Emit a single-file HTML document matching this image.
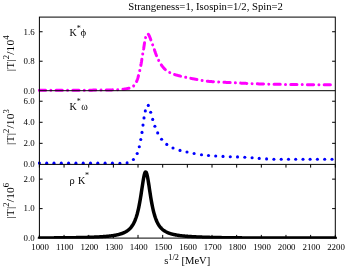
<!DOCTYPE html>
<html><head><meta charset="utf-8"><style>
html,body{margin:0;padding:0;background:#fff;}
svg{display:block;font-family:"Liberation Serif",serif;will-change:transform;}
text{fill:#000;}
</style></head><body>
<svg width="350" height="270" viewBox="0 0 350 270">
<rect width="350" height="270" fill="#fff"/>
<text x="128.3" y="10.0" font-size="10.7">Strangeness=1, Isospin=1/2, Spin=2</text>
<defs><clipPath id="c1"><rect x="37" y="17" width="300.5" height="74.9"/></clipPath><clipPath id="c2"><rect x="38" y="90.7" width="299" height="74.2"/></clipPath><clipPath id="c3"><rect x="37" y="164.4" width="300.5" height="74.25"/></clipPath></defs>
<path clip-path="url(#c1)" d="M39.40 90.20 L39.80 90.20 L40.20 90.20 L40.60 90.20 L40.99 90.20 L41.39 90.20 L41.79 90.20 L42.19 90.20 L42.59 90.20 L42.99 90.20 L43.38 90.20 L43.78 90.20 L44.18 90.20 L44.58 90.20 L44.98 90.20 L45.38 90.20 L45.77 90.20 L46.17 90.20 L46.57 90.20 L46.97 90.20 L47.37 90.20 L47.77 90.20 L48.16 90.20 L48.56 90.20 L48.96 90.20 L49.36 90.20 L49.76 90.20 L50.16 90.20 L50.55 90.20 L50.95 90.20 L51.35 90.20 L51.75 90.20 L52.15 90.20 L52.55 90.20 L52.94 90.20 L53.34 90.20 L53.74 90.20 L54.14 90.20 L54.54 90.19 L54.94 90.19 L55.33 90.19 L55.73 90.19 L56.13 90.19 L56.53 90.19 L56.93 90.19 L57.33 90.19 L57.72 90.19 L58.12 90.19 L58.52 90.19 L58.92 90.19 L59.32 90.19 L59.71 90.19 L60.11 90.19 L60.51 90.19 L60.91 90.19 L61.31 90.19 L61.71 90.19 L62.10 90.19 L62.50 90.19 L62.90 90.19 L63.30 90.19 L63.70 90.19 L64.10 90.19 L64.49 90.18 L64.89 90.18 L65.29 90.18 L65.69 90.18 L66.09 90.18 L66.49 90.18 L66.88 90.18 L67.28 90.18 L67.68 90.18 L68.08 90.18 L68.48 90.18 L68.87 90.18 L69.27 90.18 L69.67 90.18 L70.07 90.18 L70.47 90.18 L70.87 90.18 L71.26 90.18 L71.66 90.17 L72.06 90.17 L72.46 90.17 L72.86 90.17 L73.26 90.17 L73.65 90.17 L74.05 90.17 L74.45 90.17 L74.85 90.17 L75.25 90.17 L75.64 90.17 L76.04 90.17 L76.44 90.17 L76.84 90.16 L77.24 90.16 L77.64 90.16 L78.03 90.16 L78.43 90.16 L78.83 90.16 L79.23 90.16 L79.63 90.16 L80.02 90.16 L80.42 90.16 L80.82 90.16 L81.22 90.16 L81.62 90.15 L82.02 90.15 L82.41 90.15 L82.81 90.15 L83.21 90.15 L83.61 90.15 L84.01 90.15 L84.40 90.15 L84.80 90.15 L85.20 90.15 L85.60 90.14 L86.00 90.14 L86.40 90.14 L86.79 90.14 L87.19 90.14 L87.59 90.14 L87.99 90.14 L88.39 90.14 L88.78 90.14 L89.18 90.14 L89.58 90.13 L89.98 90.13 L90.38 90.13 L90.78 90.13 L91.17 90.13 L91.57 90.13 L91.97 90.13 L92.37 90.13 L92.77 90.12 L93.16 90.12 L93.56 90.12 L93.96 90.12 L94.36 90.12 L94.76 90.12 L95.15 90.12 L95.55 90.12 L95.95 90.11 L96.35 90.11 L96.75 90.11 L97.15 90.11 L97.54 90.11 L97.94 90.11 L98.34 90.11 L98.74 90.10 L99.14 90.10 L99.53 90.10 L99.93 90.10 L100.33 90.10 L100.73 90.10 L101.13 90.09 L101.53 90.09 L101.92 90.09 L102.32 90.08 L102.72 90.08 L103.12 90.08 L103.52 90.07 L103.92 90.07 L104.32 90.06 L104.72 90.06 L105.11 90.05 L105.51 90.04 L105.91 90.04 L106.31 90.03 L106.71 90.02 L107.11 90.01 L107.51 90.00 L107.91 89.99 L108.31 89.98 L108.71 89.97 L109.11 89.96 L109.50 89.95 L109.90 89.94 L110.30 89.93 L110.70 89.92 L111.10 89.91 L111.50 89.89 L111.90 89.88 L112.30 89.87 L112.69 89.85 L113.09 89.84 L113.49 89.82 L113.89 89.81 L114.29 89.79 L114.69 89.78 L115.08 89.76 L115.48 89.74 L115.88 89.72 L116.28 89.71 L116.67 89.69 L117.07 89.67 L117.47 89.65 L117.87 89.63 L118.26 89.61 L118.66 89.59 L119.06 89.57 L119.45 89.55 L119.85 89.53 L120.24 89.50 L120.64 89.48 L121.04 89.46 L121.43 89.43 L121.83 89.41 L122.22 89.39 L122.62 89.35 L123.01 89.31 L123.41 89.26 L123.80 89.21 L124.19 89.15 L124.59 89.08 L124.98 89.02 L125.37 88.94 L125.77 88.87 L126.16 88.79 L126.55 88.71 L126.94 88.62 L127.33 88.54 L127.72 88.46 L128.11 88.38 L128.50 88.29 L128.90 88.21 L129.29 88.12 L129.68 88.02 L130.07 87.91 L130.45 87.80 L130.82 87.67 L131.17 87.53 L131.53 87.36 L131.88 87.17 L132.23 86.96 L132.58 86.73 L132.91 86.48 L133.23 86.22 L133.53 85.96 L133.81 85.69 L134.07 85.42 L134.33 85.14 L134.57 84.84 L134.81 84.53 L135.04 84.20 L135.27 83.87 L135.49 83.53 L135.70 83.17 L135.90 82.82 L136.10 82.46 L136.28 82.09 L136.46 81.72 L136.63 81.36 L136.80 80.99 L136.95 80.63 L137.09 80.27 L137.23 79.90 L137.37 79.53 L137.50 79.16 L137.62 78.79 L137.74 78.41 L137.86 78.03 L137.97 77.65 L138.08 77.27 L138.19 76.88 L138.30 76.49 L138.40 76.11 L138.50 75.72 L138.60 75.33 L138.69 74.94 L138.79 74.54 L138.88 74.15 L138.98 73.76 L139.07 73.37 L139.16 72.98 L139.26 72.59 L139.35 72.20 L139.44 71.82 L139.54 71.43 L139.63 71.04 L139.72 70.66 L139.81 70.27 L139.90 69.88 L139.98 69.49 L140.07 69.10 L140.15 68.71 L140.24 68.32 L140.32 67.93 L140.40 67.54 L140.48 67.15 L140.56 66.76 L140.64 66.37 L140.72 65.98 L140.79 65.59 L140.87 65.20 L140.94 64.81 L141.02 64.42 L141.09 64.02 L141.16 63.63 L141.23 63.24 L141.29 62.85 L141.36 62.46 L141.43 62.06 L141.49 61.67 L141.56 61.28 L141.62 60.88 L141.68 60.49 L141.74 60.10 L141.81 59.70 L141.87 59.31 L141.93 58.92 L141.99 58.52 L142.05 58.13 L142.12 57.74 L142.18 57.34 L142.24 56.95 L142.31 56.56 L142.37 56.16 L142.44 55.77 L142.51 55.38 L142.57 54.99 L142.64 54.59 L142.71 54.20 L142.78 53.81 L142.84 53.42 L142.91 53.02 L142.98 52.63 L143.05 52.24 L143.12 51.85 L143.19 51.45 L143.25 51.06 L143.32 50.67 L143.39 50.28 L143.45 49.88 L143.52 49.49 L143.58 49.10 L143.65 48.71 L143.71 48.31 L143.77 47.92 L143.83 47.52 L143.89 47.13 L143.95 46.74 L144.01 46.34 L144.07 45.95 L144.13 45.55 L144.19 45.16 L144.25 44.77 L144.31 44.37 L144.37 43.98 L144.43 43.59 L144.50 43.19 L144.56 42.80 L144.63 42.41 L144.70 42.02 L144.77 41.62 L144.84 41.23 L144.90 40.84 L144.97 40.44 L145.05 40.05 L145.12 39.65 L145.20 39.26 L145.28 38.87 L145.37 38.49 L145.46 38.10 L145.57 37.72 L145.68 37.34 L145.80 36.96 L145.93 36.57 L146.08 36.19 L146.24 35.82 L146.42 35.46 L146.60 35.11 L146.81 34.79 L147.06 34.43 L147.35 34.08 L147.65 33.84 L147.93 33.83 L148.20 34.07 L148.47 34.44 L148.71 34.84 L148.91 35.18 L149.10 35.52 L149.27 35.87 L149.44 36.23 L149.60 36.60 L149.75 36.97 L149.90 37.34 L150.04 37.72 L150.18 38.10 L150.32 38.48 L150.46 38.86 L150.60 39.24 L150.74 39.61 L150.88 39.98 L151.02 40.35 L151.16 40.73 L151.30 41.10 L151.43 41.48 L151.57 41.85 L151.70 42.23 L151.84 42.60 L151.97 42.97 L152.11 43.35 L152.24 43.72 L152.38 44.10 L152.51 44.47 L152.65 44.85 L152.78 45.22 L152.92 45.60 L153.05 45.97 L153.19 46.35 L153.32 46.72 L153.46 47.10 L153.59 47.47 L153.72 47.85 L153.86 48.22 L153.99 48.60 L154.12 48.98 L154.25 49.35 L154.38 49.73 L154.51 50.11 L154.63 50.48 L154.76 50.86 L154.90 51.24 L155.03 51.61 L155.16 51.99 L155.29 52.36 L155.43 52.74 L155.56 53.11 L155.70 53.48 L155.84 53.86 L155.99 54.23 L156.13 54.60 L156.28 54.97 L156.43 55.34 L156.58 55.71 L156.73 56.08 L156.88 56.44 L157.04 56.81 L157.19 57.18 L157.35 57.54 L157.51 57.91 L157.67 58.27 L157.83 58.64 L158.00 59.00 L158.16 59.36 L158.33 59.72 L158.50 60.08 L158.67 60.45 L158.84 60.81 L159.02 61.17 L159.19 61.52 L159.38 61.88 L159.56 62.23 L159.76 62.58 L159.95 62.92 L160.16 63.26 L160.37 63.59 L160.59 63.93 L160.81 64.26 L161.04 64.58 L161.27 64.91 L161.51 65.23 L161.75 65.55 L162.00 65.86 L162.24 66.18 L162.49 66.49 L162.74 66.80 L162.99 67.11 L163.24 67.42 L163.50 67.73 L163.76 68.03 L164.03 68.33 L164.30 68.62 L164.58 68.91 L164.87 69.18 L165.16 69.44 L165.46 69.69 L165.77 69.94 L166.08 70.19 L166.40 70.43 L166.73 70.66 L167.06 70.89 L167.40 71.11 L167.73 71.33 L168.07 71.54 L168.41 71.75 L168.75 71.95 L169.09 72.15 L169.44 72.35 L169.79 72.54 L170.14 72.73 L170.50 72.92 L170.86 73.10 L171.22 73.27 L171.58 73.43 L171.95 73.58 L172.31 73.72 L172.68 73.86 L173.05 74.00 L173.43 74.13 L173.80 74.26 L174.18 74.38 L174.56 74.50 L174.94 74.62 L175.32 74.74 L175.71 74.85 L176.09 74.96 L176.48 75.07 L176.86 75.18 L177.25 75.28 L177.63 75.39 L178.02 75.49 L178.41 75.59 L178.80 75.69 L179.18 75.79 L179.57 75.89 L179.95 75.99 L180.34 76.09 L180.72 76.18 L181.11 76.28 L181.50 76.37 L181.88 76.47 L182.27 76.56 L182.66 76.65 L183.05 76.74 L183.44 76.82 L183.83 76.91 L184.21 77.00 L184.60 77.08 L184.99 77.17 L185.38 77.25 L185.77 77.34 L186.16 77.42 L186.55 77.50 L186.94 77.58 L187.33 77.66 L187.72 77.74 L188.11 77.82 L188.50 77.90 L188.89 77.98 L189.28 78.06 L189.67 78.13 L190.07 78.21 L190.46 78.29 L190.85 78.36 L191.24 78.44 L191.63 78.51 L192.02 78.59 L192.41 78.66 L192.80 78.73 L193.20 78.81 L193.59 78.88 L193.98 78.95 L194.37 79.02 L194.76 79.09 L195.16 79.16 L195.55 79.23 L195.94 79.30 L196.33 79.37 L196.72 79.44 L197.12 79.51 L197.51 79.58 L197.90 79.64 L198.29 79.71 L198.69 79.78 L199.08 79.85 L199.47 79.92 L199.86 79.99 L200.25 80.06 L200.65 80.14 L201.04 80.21 L201.43 80.29 L201.82 80.36 L202.22 80.43 L202.61 80.51 L203.00 80.58 L203.39 80.65 L203.79 80.72 L204.18 80.79 L204.57 80.86 L204.96 80.92 L205.36 80.98 L205.75 81.04 L206.15 81.10 L206.54 81.15 L206.93 81.20 L207.33 81.24 L207.72 81.28 L208.12 81.32 L208.51 81.35 L208.91 81.39 L209.30 81.42 L209.70 81.46 L210.09 81.49 L210.49 81.52 L210.89 81.55 L211.28 81.58 L211.68 81.61 L212.08 81.64 L212.47 81.67 L212.87 81.69 L213.27 81.72 L213.66 81.75 L214.06 81.77 L214.46 81.80 L214.85 81.82 L215.25 81.85 L215.65 81.87 L216.05 81.89 L216.45 81.92 L216.84 81.94 L217.24 81.96 L217.64 81.98 L218.04 82.00 L218.43 82.02 L218.83 82.04 L219.23 82.06 L219.63 82.08 L220.03 82.10 L220.43 82.12 L220.82 82.14 L221.22 82.16 L221.62 82.18 L222.02 82.20 L222.42 82.22 L222.82 82.24 L223.22 82.25 L223.61 82.27 L224.01 82.29 L224.41 82.31 L224.81 82.33 L225.21 82.34 L225.61 82.36 L226.00 82.38 L226.40 82.40 L226.80 82.42 L227.20 82.43 L227.60 82.45 L228.00 82.47 L228.39 82.49 L228.79 82.51 L229.19 82.53 L229.59 82.55 L229.99 82.56 L230.38 82.58 L230.78 82.60 L231.18 82.62 L231.58 82.64 L231.97 82.66 L232.37 82.68 L232.77 82.70 L233.17 82.72 L233.57 82.74 L233.96 82.76 L234.36 82.79 L234.76 82.81 L235.16 82.83 L235.55 82.85 L235.95 82.87 L236.35 82.89 L236.75 82.91 L237.15 82.93 L237.54 82.95 L237.94 82.97 L238.34 82.99 L238.74 83.01 L239.13 83.03 L239.53 83.05 L239.93 83.07 L240.33 83.09 L240.73 83.11 L241.12 83.13 L241.52 83.15 L241.92 83.17 L242.32 83.19 L242.71 83.21 L243.11 83.23 L243.51 83.25 L243.91 83.27 L244.31 83.29 L244.70 83.31 L245.10 83.33 L245.50 83.35 L245.90 83.37 L246.30 83.39 L246.69 83.40 L247.09 83.42 L247.49 83.44 L247.89 83.46 L248.28 83.48 L248.68 83.50 L249.08 83.51 L249.48 83.53 L249.88 83.55 L250.27 83.57 L250.67 83.58 L251.07 83.60 L251.47 83.62 L251.87 83.64 L252.26 83.65 L252.66 83.67 L253.06 83.68 L253.46 83.70 L253.85 83.72 L254.25 83.73 L254.65 83.75 L255.05 83.76 L255.45 83.78 L255.84 83.79 L256.24 83.81 L256.64 83.82 L257.04 83.83 L257.44 83.85 L257.83 83.86 L258.23 83.87 L258.63 83.89 L259.03 83.90 L259.43 83.91 L259.82 83.92 L260.22 83.93 L260.62 83.95 L261.02 83.96 L261.42 83.97 L261.81 83.98 L262.21 83.99 L262.61 84.00 L263.01 84.01 L263.41 84.02 L263.80 84.03 L264.20 84.04 L264.60 84.04 L265.00 84.05 L265.40 84.06 L265.79 84.07 L266.19 84.08 L266.59 84.09 L266.99 84.10 L267.39 84.11 L267.78 84.12 L268.18 84.12 L268.58 84.13 L268.98 84.14 L269.38 84.15 L269.78 84.16 L270.17 84.17 L270.57 84.17 L270.97 84.18 L271.37 84.19 L271.77 84.20 L272.16 84.21 L272.56 84.21 L272.96 84.22 L273.36 84.23 L273.76 84.24 L274.16 84.24 L274.55 84.25 L274.95 84.26 L275.35 84.27 L275.75 84.27 L276.15 84.28 L276.54 84.29 L276.94 84.29 L277.34 84.30 L277.74 84.31 L278.14 84.32 L278.54 84.32 L278.93 84.33 L279.33 84.34 L279.73 84.34 L280.13 84.35 L280.53 84.36 L280.92 84.36 L281.32 84.37 L281.72 84.37 L282.12 84.38 L282.52 84.39 L282.92 84.39 L283.31 84.40 L283.71 84.41 L284.11 84.41 L284.51 84.42 L284.91 84.42 L285.31 84.43 L285.70 84.43 L286.10 84.44 L286.50 84.45 L286.90 84.45 L287.30 84.46 L287.69 84.46 L288.09 84.47 L288.49 84.47 L288.89 84.48 L289.29 84.48 L289.69 84.49 L290.08 84.49 L290.48 84.50 L290.88 84.50 L291.28 84.51 L291.68 84.51 L292.08 84.52 L292.47 84.52 L292.87 84.53 L293.27 84.53 L293.67 84.54 L294.07 84.54 L294.46 84.54 L294.86 84.55 L295.26 84.55 L295.66 84.56 L296.06 84.56 L296.46 84.57 L296.85 84.57 L297.25 84.57 L297.65 84.58 L298.05 84.58 L298.45 84.59 L298.85 84.59 L299.24 84.59 L299.64 84.60 L300.04 84.60 L300.44 84.60 L300.84 84.61 L301.23 84.61 L301.63 84.61 L302.03 84.62 L302.43 84.62 L302.83 84.63 L303.23 84.63 L303.62 84.63 L304.02 84.64 L304.42 84.64 L304.82 84.64 L305.22 84.65 L305.61 84.65 L306.01 84.65 L306.41 84.66 L306.81 84.66 L307.21 84.66 L307.61 84.67 L308.00 84.67 L308.40 84.67 L308.80 84.68 L309.20 84.68 L309.60 84.68 L310.00 84.69 L310.39 84.69 L310.79 84.69 L311.19 84.69 L311.59 84.70 L311.99 84.70 L312.38 84.70 L312.78 84.71 L313.18 84.71 L313.58 84.71 L313.98 84.72 L314.38 84.72 L314.77 84.72 L315.17 84.72 L315.57 84.73 L315.97 84.73 L316.37 84.73 L316.77 84.73 L317.16 84.74 L317.56 84.74 L317.96 84.74 L318.36 84.74 L318.76 84.75 L319.15 84.75 L319.55 84.75 L319.95 84.75 L320.35 84.76 L320.75 84.76 L321.15 84.76 L321.54 84.76 L321.94 84.77 L322.34 84.77 L322.74 84.77 L323.14 84.77 L323.54 84.77 L323.93 84.78 L324.33 84.78 L324.73 84.78 L325.13 84.78 L325.53 84.78 L325.92 84.78 L326.32 84.79 L326.72 84.79 L327.12 84.79 L327.52 84.79 L327.92 84.79 L328.31 84.79 L328.71 84.79 L329.11 84.79 L329.51 84.80 L329.91 84.80 L330.31 84.80 L330.70 84.80 L331.10 84.80 L331.50 84.80" fill="none" stroke="#ff00ff" stroke-width="3" stroke-linecap="round" stroke-linejoin="round" stroke-dasharray="6.2 5.25 0.01 5.25"/>
<g clip-path="url(#c2)" fill="#0000ff"><circle cx="39.40" cy="163.15" r="1.55"/><circle cx="46.70" cy="163.15" r="1.55"/><circle cx="54.00" cy="163.15" r="1.55"/><circle cx="61.30" cy="163.15" r="1.55"/><circle cx="68.60" cy="163.15" r="1.55"/><circle cx="75.90" cy="163.15" r="1.55"/><circle cx="83.20" cy="163.15" r="1.55"/><circle cx="90.50" cy="163.15" r="1.55"/><circle cx="97.80" cy="163.15" r="1.55"/><circle cx="105.10" cy="163.15" r="1.55"/><circle cx="112.40" cy="163.15" r="1.55"/><circle cx="119.90" cy="163.40" r="1.55"/><circle cx="127.10" cy="162.90" r="1.55"/><circle cx="133.40" cy="159.50" r="1.55"/><circle cx="137.20" cy="153.50" r="1.55"/><circle cx="139.30" cy="146.70" r="1.55"/><circle cx="140.80" cy="139.50" r="1.55"/><circle cx="142.00" cy="132.40" r="1.55"/><circle cx="143.00" cy="125.10" r="1.55"/><circle cx="144.00" cy="117.90" r="1.55"/><circle cx="145.30" cy="110.90" r="1.55"/><circle cx="148.30" cy="105.40" r="1.55"/><circle cx="150.70" cy="112.30" r="1.55"/><circle cx="152.70" cy="119.40" r="1.55"/><circle cx="154.90" cy="126.30" r="1.55"/><circle cx="157.70" cy="132.90" r="1.55"/><circle cx="161.60" cy="139.20" r="1.55"/><circle cx="166.80" cy="144.40" r="1.55"/><circle cx="173.00" cy="148.00" r="1.55"/><circle cx="180.00" cy="150.40" r="1.55"/><circle cx="187.00" cy="152.00" r="1.55"/><circle cx="194.10" cy="153.50" r="1.55"/><circle cx="201.50" cy="154.80" r="1.55"/><circle cx="208.50" cy="155.50" r="1.55"/><circle cx="215.70" cy="156.00" r="1.55"/><circle cx="223.00" cy="156.40" r="1.55"/><circle cx="230.30" cy="156.70" r="1.55"/><circle cx="237.50" cy="156.90" r="1.55"/><circle cx="244.80" cy="157.30" r="1.55"/><circle cx="252.10" cy="157.80" r="1.55"/><circle cx="259.20" cy="158.40" r="1.55"/><circle cx="266.60" cy="158.90" r="1.55"/><circle cx="273.90" cy="159.20" r="1.55"/><circle cx="281.20" cy="159.30" r="1.55"/><circle cx="288.50" cy="159.30" r="1.55"/><circle cx="295.70" cy="159.30" r="1.55"/><circle cx="303.00" cy="159.30" r="1.55"/><circle cx="310.10" cy="159.30" r="1.55"/><circle cx="317.40" cy="159.30" r="1.55"/><circle cx="324.70" cy="159.30" r="1.55"/><circle cx="332.00" cy="159.30" r="1.55"/></g>
<path clip-path="url(#c3)" d="M39.40 237.96 L39.82 237.96 L40.25 237.96 L40.67 237.95 L41.09 237.95 L41.52 237.95 L41.94 237.95 L42.36 237.95 L42.79 237.94 L43.21 237.94 L43.63 237.94 L44.06 237.94 L44.48 237.94 L44.90 237.93 L45.33 237.93 L45.75 237.93 L46.17 237.93 L46.60 237.92 L47.02 237.92 L47.44 237.92 L47.87 237.92 L48.29 237.91 L48.71 237.91 L49.14 237.91 L49.56 237.91 L49.98 237.90 L50.41 237.90 L50.83 237.90 L51.25 237.89 L51.68 237.89 L52.10 237.89 L52.52 237.89 L52.95 237.88 L53.37 237.88 L53.79 237.88 L54.22 237.87 L54.64 237.87 L55.06 237.87 L55.49 237.86 L55.91 237.86 L56.33 237.86 L56.76 237.85 L57.18 237.85 L57.60 237.85 L58.03 237.84 L58.45 237.84 L58.87 237.84 L59.30 237.83 L59.72 237.83 L60.14 237.83 L60.57 237.82 L60.99 237.82 L61.41 237.81 L61.84 237.81 L62.26 237.81 L62.68 237.80 L63.11 237.80 L63.53 237.79 L63.95 237.79 L64.38 237.78 L64.80 237.78 L65.22 237.78 L65.65 237.77 L66.07 237.77 L66.49 237.76 L66.92 237.76 L67.34 237.75 L67.76 237.75 L68.19 237.74 L68.61 237.74 L69.03 237.73 L69.46 237.72 L69.88 237.72 L70.30 237.71 L70.73 237.71 L71.15 237.70 L71.57 237.70 L72.00 237.69 L72.42 237.68 L72.84 237.68 L73.27 237.67 L73.69 237.66 L74.11 237.66 L74.54 237.65 L74.96 237.64 L75.38 237.64 L75.81 237.63 L76.23 237.62 L76.65 237.62 L77.08 237.61 L77.50 237.60 L77.92 237.59 L78.35 237.58 L78.77 237.58 L79.19 237.57 L79.62 237.56 L80.04 237.55 L80.46 237.54 L80.89 237.53 L81.31 237.52 L81.73 237.51 L82.16 237.50 L82.58 237.50 L83.00 237.49 L83.43 237.48 L83.85 237.46 L84.27 237.45 L84.70 237.44 L85.12 237.43 L85.54 237.42 L85.97 237.41 L86.39 237.40 L86.81 237.39 L87.24 237.37 L87.66 237.36 L88.08 237.35 L88.51 237.34 L88.93 237.32 L89.35 237.31 L89.77 237.29 L90.20 237.28 L90.62 237.27 L91.04 237.25 L91.47 237.24 L91.89 237.22 L92.31 237.20 L92.74 237.19 L93.16 237.17 L93.58 237.15 L94.01 237.14 L94.43 237.12 L94.85 237.10 L95.28 237.08 L95.70 237.06 L96.12 237.04 L96.55 237.02 L96.97 237.00 L97.39 236.98 L97.82 236.96 L98.24 236.94 L98.66 236.92 L99.09 236.89 L99.51 236.87 L99.93 236.84 L100.36 236.82 L100.78 236.79 L101.20 236.77 L101.63 236.74 L102.05 236.71 L102.47 236.68 L102.90 236.65 L103.32 236.62 L103.74 236.59 L104.17 236.56 L104.59 236.52 L105.01 236.49 L105.44 236.45 L105.86 236.42 L106.28 236.38 L106.71 236.34 L107.13 236.30 L107.55 236.26 L107.98 236.22 L108.40 236.18 L108.82 236.13 L109.25 236.08 L109.67 236.04 L110.09 235.99 L110.52 235.94 L110.94 235.88 L111.36 235.83 L111.79 235.77 L112.21 235.71 L112.63 235.65 L113.06 235.59 L113.48 235.52 L113.90 235.46 L114.33 235.39 L114.75 235.31 L115.17 235.24 L115.60 235.16 L116.02 235.08 L116.44 234.99 L116.87 234.90 L117.29 234.81 L117.71 234.72 L118.14 234.62 L118.56 234.51 L118.98 234.40 L119.41 234.29 L119.83 234.17 L120.25 234.05 L120.68 233.92 L121.10 233.78 L121.52 233.64 L121.95 233.49 L122.37 233.34 L122.79 233.17 L123.22 233.00 L123.64 232.82 L124.06 232.63 L124.49 232.43 L124.91 232.22 L125.33 232.00 L125.76 231.76 L126.18 231.52 L126.60 231.25 L127.03 230.97 L127.45 230.68 L127.87 230.37 L128.30 230.04 L128.72 229.68 L129.14 229.31 L129.57 228.91 L129.99 228.49 L130.41 228.03 L130.84 227.55 L131.26 227.03 L131.68 226.47 L132.11 225.88 L132.53 225.24 L132.95 224.55 L133.38 223.81 L133.80 223.02 L134.22 222.16 L134.65 221.24 L135.07 220.25 L135.49 219.17 L135.92 218.01 L136.34 216.76 L136.76 215.40 L137.19 213.94 L137.61 212.35 L138.03 210.65 L138.46 208.81 L138.88 206.83 L139.30 204.71 L139.73 202.45 L140.15 200.05 L140.57 197.51 L141.00 194.86 L141.42 192.11 L141.84 189.30 L142.27 186.47 L142.69 183.69 L143.11 181.02 L143.54 178.54 L143.96 176.34 L144.38 174.51 L144.81 173.12 L145.23 172.24 L145.65 171.92 L146.08 172.17 L146.50 172.98 L146.92 174.31 L147.35 176.09 L147.77 178.25 L148.19 180.70 L148.62 183.35 L149.04 186.11 L149.46 188.93 L149.89 191.74 L150.31 194.50 L150.73 197.16 L151.16 199.70 L151.58 202.12 L152.00 204.39 L152.43 206.52 L152.85 208.51 L153.27 210.36 L153.70 212.08 L154.12 213.67 L154.54 215.14 L154.97 216.51 L155.39 217.77 L155.81 218.94 L156.24 220.02 L156.66 221.02 L157.08 221.94 L157.51 222.80 L157.93 223.60 L158.35 224.34 L158.78 225.03 L159.20 225.67 L159.62 226.26 L160.05 226.82 L160.47 227.34 L160.89 227.82 L161.32 228.28 L161.74 228.70 L162.16 229.10 L162.59 229.48 L163.01 229.83 L163.43 230.16 L163.86 230.47 L164.28 230.76 L164.70 231.04 L165.13 231.30 L165.55 231.55 L165.97 231.78 L166.40 232.00 L166.82 232.21 L167.24 232.41 L167.67 232.60 L168.09 232.78 L168.51 232.95 L168.94 233.11 L169.36 233.27 L169.78 233.41 L170.21 233.55 L170.63 233.69 L171.05 233.82 L171.48 233.94 L171.90 234.06 L172.32 234.17 L172.75 234.28 L173.17 234.38 L173.59 234.48 L174.02 234.57 L174.44 234.66 L174.86 234.75 L175.29 234.83 L175.71 234.92 L176.13 234.99 L176.56 235.07 L176.98 235.14 L177.40 235.21 L177.83 235.28 L178.25 235.34 L178.67 235.40 L179.10 235.47 L179.52 235.52 L179.94 235.58 L180.37 235.63 L180.79 235.69 L181.21 235.74 L181.64 235.79 L182.06 235.84 L182.48 235.88 L182.91 235.93 L183.33 235.97 L183.75 236.01 L184.18 236.06 L184.60 236.10 L185.02 236.14 L185.45 236.17 L185.87 236.21 L186.29 236.25 L186.72 236.28 L187.14 236.32 L187.56 236.35 L187.98 236.38 L188.41 236.41 L188.83 236.44 L189.25 236.47 L189.68 236.50 L190.10 236.53 L190.52 236.56 L190.95 236.59 L191.37 236.61 L191.79 236.64 L192.22 236.66 L192.64 236.69 L193.06 236.71 L193.49 236.74 L193.91 236.76 L194.33 236.78 L194.76 236.80 L195.18 236.83 L195.60 236.85 L196.03 236.87 L196.45 236.89 L196.87 236.91 L197.30 236.93 L197.72 236.95 L198.14 236.97 L198.57 236.99 L198.99 237.00 L199.41 237.02 L199.84 237.04 L200.26 237.06 L200.68 237.07 L201.11 237.09 L201.53 237.11 L201.95 237.12 L202.38 237.14 L202.80 237.15 L203.22 237.17 L203.65 237.18 L204.07 237.20 L204.49 237.21 L204.92 237.22 L205.34 237.24 L205.76 237.25 L206.19 237.27 L206.61 237.28 L207.03 237.29 L207.46 237.30 L207.88 237.32 L208.30 237.33 L208.73 237.34 L209.15 237.35 L209.57 237.36 L210.00 237.38 L210.42 237.39 L210.84 237.40 L211.27 237.41 L211.69 237.42 L212.11 237.43 L212.54 237.44 L212.96 237.45 L213.38 237.46 L213.81 237.47 L214.23 237.48 L214.65 237.49 L215.08 237.50 L215.50 237.51 L215.92 237.52 L216.35 237.53 L216.77 237.54 L217.19 237.54 L217.62 237.55 L218.04 237.56 L218.46 237.57 L218.89 237.58 L219.31 237.59 L219.73 237.59 L220.16 237.60 L220.58 237.61 L221.00 237.62 L221.43 237.62 L221.85 237.63 L222.27 237.64 L222.70 237.65 L223.12 237.65 L223.54 237.66 L223.97 237.67 L224.39 237.67 L224.81 237.68 L225.24 237.69 L225.66 237.69 L226.08 237.70 L226.51 237.71 L226.93 237.71 L227.35 237.72 L227.78 237.72 L228.20 237.73 L228.62 237.73 L229.05 237.74 L229.47 237.75 L229.89 237.75 L230.32 237.76 L230.74 237.76 L231.16 237.77 L231.59 237.77 L232.01 237.78 L232.43 237.78 L232.86 237.79 L233.28 237.79 L233.70 237.80 L234.13 237.80 L234.55 237.81 L234.97 237.81 L235.40 237.81 L235.82 237.82 L236.24 237.82 L236.67 237.83 L237.09 237.83 L237.51 237.84 L237.94 237.84 L238.36 237.84 L238.78 237.85 L239.21 237.85 L239.63 237.86 L240.05 237.86 L240.48 237.86 L240.90 237.87 L241.32 237.87 L241.75 237.87 L242.17 237.88 L242.59 237.88 L243.02 237.88 L243.44 237.89 L243.86 237.89 L244.29 237.89 L244.71 237.90 L245.13 237.90 L245.56 237.90 L245.98 237.91 L246.40 237.91 L246.83 237.91 L247.25 237.92 L247.67 237.92 L248.10 237.92 L248.52 237.92 L248.94 237.93 L249.37 237.93 L249.79 237.93 L250.21 237.93 L250.64 237.94 L251.06 237.94 L251.48 237.94 L251.91 237.94 L252.33 237.95 L252.75 237.95 L253.18 237.95 L253.60 237.95 L254.02 237.96 L254.45 237.96 L254.87 237.96 L255.29 237.96 L255.72 237.96 L256.14 237.97 L256.56 237.97 L256.99 237.97 L257.41 237.97 L257.83 237.97 L258.26 237.98 L258.68 237.98 L259.10 237.98 L259.53 237.98 L259.95 237.98 L260.37 237.99 L260.80 237.99 L261.22 237.99 L261.64 237.99 L262.07 237.99 L262.49 237.99 L262.91 238.00 L263.34 238.00 L263.76 238.00 L264.18 238.00 L264.61 238.00 L265.03 238.00 L265.45 238.01 L265.88 238.01 L266.30 238.01 L266.72 238.01 L267.15 238.01 L267.57 238.01 L267.99 238.01 L268.42 238.02 L268.84 238.02 L269.26 238.02 L269.69 238.02 L270.11 238.02 L270.53 238.02 L270.96 238.02 L271.38 238.03 L271.80 238.03 L272.23 238.03 L272.65 238.03 L273.07 238.03 L273.50 238.03 L273.92 238.03 L274.34 238.03 L274.77 238.04 L275.19 238.04 L275.61 238.04 L276.04 238.04 L276.46 238.04 L276.88 238.04 L277.31 238.04 L277.73 238.04 L278.15 238.04 L278.58 238.05 L279.00 238.05 L279.42 238.05 L279.85 238.05 L280.27 238.05 L280.69 238.05 L281.12 238.05 L281.54 238.05 L281.96 238.05 L282.39 238.05 L282.81 238.06 L283.23 238.06 L283.66 238.06 L284.08 238.06 L284.50 238.06 L284.93 238.06 L285.35 238.06 L285.77 238.06 L286.19 238.06 L286.62 238.06 L287.04 238.06 L287.46 238.06 L287.89 238.07 L288.31 238.07 L288.73 238.07 L289.16 238.07 L289.58 238.07 L290.00 238.07 L290.43 238.07 L290.85 238.07 L291.27 238.07 L291.70 238.07 L292.12 238.07 L292.54 238.07 L292.97 238.07 L293.39 238.08 L293.81 238.08 L294.24 238.08 L294.66 238.08 L295.08 238.08 L295.51 238.08 L295.93 238.08 L296.35 238.08 L296.78 238.08 L297.20 238.08 L297.62 238.08 L298.05 238.08 L298.47 238.08 L298.89 238.08 L299.32 238.09 L299.74 238.09 L300.16 238.09 L300.59 238.09 L301.01 238.09 L301.43 238.09 L301.86 238.09 L302.28 238.09 L302.70 238.09 L303.13 238.09 L303.55 238.09 L303.97 238.09 L304.40 238.09 L304.82 238.09 L305.24 238.09 L305.67 238.09 L306.09 238.09 L306.51 238.10 L306.94 238.10 L307.36 238.10 L307.78 238.10 L308.21 238.10 L308.63 238.10 L309.05 238.10 L309.48 238.10 L309.90 238.10 L310.32 238.10 L310.75 238.10 L311.17 238.10 L311.59 238.10 L312.02 238.10 L312.44 238.10 L312.86 238.10 L313.29 238.10 L313.71 238.10 L314.13 238.10 L314.56 238.11 L314.98 238.11 L315.40 238.11 L315.83 238.11 L316.25 238.11 L316.67 238.11 L317.10 238.11 L317.52 238.11 L317.94 238.11 L318.37 238.11 L318.79 238.11 L319.21 238.11 L319.64 238.11 L320.06 238.11 L320.48 238.11 L320.91 238.11 L321.33 238.11 L321.75 238.11 L322.18 238.11 L322.60 238.11 L323.02 238.11 L323.45 238.11 L323.87 238.11 L324.29 238.12 L324.72 238.12 L325.14 238.12 L325.56 238.12 L325.99 238.12 L326.41 238.12 L326.83 238.12 L327.26 238.12 L327.68 238.12 L328.10 238.12 L328.53 238.12 L328.95 238.12 L329.37 238.12 L329.80 238.12 L330.22 238.12 L330.64 238.12 L331.07 238.12 L331.49 238.12 L331.91 238.12 L332.34 238.12 L332.76 238.12 L333.18 238.12 L333.61 238.12 L334.03 238.12 L334.45 238.12 L334.88 238.12 L335.30 238.12" fill="none" stroke="#000" stroke-width="3.5" stroke-linecap="round" stroke-linejoin="round"/>
<rect x="39.40" y="17.10" width="295.90" height="221.00" fill="none" stroke="#000" stroke-width="1"/>
<line x1="39.40" y1="90.70" x2="335.30" y2="90.70" stroke="#000" stroke-width="1"/>
<line x1="39.40" y1="164.40" x2="335.30" y2="164.40" stroke="#000" stroke-width="1"/>
<line x1="39.40" y1="238.10" x2="39.40" y2="234.90" stroke="#000" stroke-width="1"/>
<line x1="39.40" y1="164.40" x2="39.40" y2="167.60" stroke="#000" stroke-width="1"/>
<line x1="64.06" y1="238.10" x2="64.06" y2="234.90" stroke="#000" stroke-width="1"/>
<line x1="64.06" y1="164.40" x2="64.06" y2="167.60" stroke="#000" stroke-width="1"/>
<line x1="88.72" y1="238.10" x2="88.72" y2="234.90" stroke="#000" stroke-width="1"/>
<line x1="88.72" y1="164.40" x2="88.72" y2="167.60" stroke="#000" stroke-width="1"/>
<line x1="113.38" y1="238.10" x2="113.38" y2="234.90" stroke="#000" stroke-width="1"/>
<line x1="113.38" y1="164.40" x2="113.38" y2="167.60" stroke="#000" stroke-width="1"/>
<line x1="138.03" y1="238.10" x2="138.03" y2="234.90" stroke="#000" stroke-width="1"/>
<line x1="138.03" y1="164.40" x2="138.03" y2="167.60" stroke="#000" stroke-width="1"/>
<line x1="162.69" y1="238.10" x2="162.69" y2="234.90" stroke="#000" stroke-width="1"/>
<line x1="162.69" y1="164.40" x2="162.69" y2="167.60" stroke="#000" stroke-width="1"/>
<line x1="187.35" y1="238.10" x2="187.35" y2="234.90" stroke="#000" stroke-width="1"/>
<line x1="187.35" y1="164.40" x2="187.35" y2="167.60" stroke="#000" stroke-width="1"/>
<line x1="212.01" y1="238.10" x2="212.01" y2="234.90" stroke="#000" stroke-width="1"/>
<line x1="212.01" y1="164.40" x2="212.01" y2="167.60" stroke="#000" stroke-width="1"/>
<line x1="236.67" y1="238.10" x2="236.67" y2="234.90" stroke="#000" stroke-width="1"/>
<line x1="236.67" y1="164.40" x2="236.67" y2="167.60" stroke="#000" stroke-width="1"/>
<line x1="261.33" y1="238.10" x2="261.33" y2="234.90" stroke="#000" stroke-width="1"/>
<line x1="261.33" y1="164.40" x2="261.33" y2="167.60" stroke="#000" stroke-width="1"/>
<line x1="285.98" y1="238.10" x2="285.98" y2="234.90" stroke="#000" stroke-width="1"/>
<line x1="285.98" y1="164.40" x2="285.98" y2="167.60" stroke="#000" stroke-width="1"/>
<line x1="310.64" y1="238.10" x2="310.64" y2="234.90" stroke="#000" stroke-width="1"/>
<line x1="310.64" y1="164.40" x2="310.64" y2="167.60" stroke="#000" stroke-width="1"/>
<line x1="335.30" y1="238.10" x2="335.30" y2="234.90" stroke="#000" stroke-width="1"/>
<line x1="335.30" y1="164.40" x2="335.30" y2="167.60" stroke="#000" stroke-width="1"/>
<line x1="39.40" y1="61.22" x2="42.60" y2="61.22" stroke="#000" stroke-width="1"/>
<line x1="335.30" y1="61.22" x2="332.10" y2="61.22" stroke="#000" stroke-width="1"/>
<line x1="39.40" y1="31.74" x2="42.60" y2="31.74" stroke="#000" stroke-width="1"/>
<line x1="335.30" y1="31.74" x2="332.10" y2="31.74" stroke="#000" stroke-width="1"/>
<line x1="39.40" y1="143.34" x2="42.60" y2="143.34" stroke="#000" stroke-width="1"/>
<line x1="335.30" y1="143.34" x2="332.10" y2="143.34" stroke="#000" stroke-width="1"/>
<line x1="39.40" y1="122.29" x2="42.60" y2="122.29" stroke="#000" stroke-width="1"/>
<line x1="335.30" y1="122.29" x2="332.10" y2="122.29" stroke="#000" stroke-width="1"/>
<line x1="39.40" y1="101.23" x2="42.60" y2="101.23" stroke="#000" stroke-width="1"/>
<line x1="335.30" y1="101.23" x2="332.10" y2="101.23" stroke="#000" stroke-width="1"/>
<line x1="39.40" y1="208.62" x2="42.60" y2="208.62" stroke="#000" stroke-width="1"/>
<line x1="335.30" y1="208.62" x2="332.10" y2="208.62" stroke="#000" stroke-width="1"/>
<line x1="39.40" y1="179.14" x2="42.60" y2="179.14" stroke="#000" stroke-width="1"/>
<line x1="335.30" y1="179.14" x2="332.10" y2="179.14" stroke="#000" stroke-width="1"/>
<text x="40.10" y="250.40" font-size="8.9" text-anchor="middle" >1000</text>
<text x="64.76" y="250.40" font-size="8.9" text-anchor="middle" >1100</text>
<text x="89.42" y="250.40" font-size="8.9" text-anchor="middle" >1200</text>
<text x="114.08" y="250.40" font-size="8.9" text-anchor="middle" >1300</text>
<text x="138.73" y="250.40" font-size="8.9" text-anchor="middle" >1400</text>
<text x="163.39" y="250.40" font-size="8.9" text-anchor="middle" >1500</text>
<text x="188.05" y="250.40" font-size="8.9" text-anchor="middle" >1600</text>
<text x="212.71" y="250.40" font-size="8.9" text-anchor="middle" >1700</text>
<text x="237.37" y="250.40" font-size="8.9" text-anchor="middle" >1800</text>
<text x="262.03" y="250.40" font-size="8.9" text-anchor="middle" >1900</text>
<text x="286.68" y="250.40" font-size="8.9" text-anchor="middle" >2000</text>
<text x="311.34" y="250.40" font-size="8.9" text-anchor="middle" >2100</text>
<text x="336.00" y="250.40" font-size="8.9" text-anchor="middle" >2200</text>
<text x="34.60" y="64.02" font-size="8.9" text-anchor="end" >0.8</text>
<text x="34.60" y="34.54" font-size="8.9" text-anchor="end" >1.6</text>
<text x="34.60" y="94.00" font-size="8.9" text-anchor="end" >0.0</text>
<text x="34.60" y="146.14" font-size="8.9" text-anchor="end" >2.0</text>
<text x="34.60" y="125.09" font-size="8.9" text-anchor="end" >4.0</text>
<text x="34.60" y="104.03" font-size="8.9" text-anchor="end" >6.0</text>
<text x="34.60" y="167.40" font-size="8.9" text-anchor="end" >0.0</text>
<text x="34.60" y="240.90" font-size="8.9" text-anchor="end" >0.0</text>
<text x="34.60" y="211.42" font-size="8.9" text-anchor="end" >1.0</text>
<text x="34.60" y="181.94" font-size="8.9" text-anchor="end" >2.0</text>
<text x="69.5" y="36.45" font-size="10">K</text><text x="76.74" y="30.85" font-size="8" fill="#444">*</text><text x="80.6" y="36.45" font-size="10.8">&#981;</text>
<text x="69.6" y="109.9" font-size="10">K</text><text x="76.74" y="104.3" font-size="8" fill="#444">*</text><text x="81.25" y="110.0" font-size="10">&#969;</text>
<text x="69.4" y="183.6" font-size="10.4">&#961;</text><text x="77.9" y="183.7" font-size="10">K</text><text x="84.97" y="178.1" font-size="8" fill="#444">*</text>
<text transform="translate(13.9,71.2) rotate(-90)" font-size="11.4" letter-spacing="0.15">|T|<tspan dy="-4.8" font-size="8.6">2</tspan><tspan dy="4.8">/10</tspan><tspan dy="-4.8" font-size="8.6">4</tspan></text>
<text transform="translate(13.9,144.9) rotate(-90)" font-size="11.4" letter-spacing="0.15">|T|<tspan dy="-4.8" font-size="8.6">2</tspan><tspan dy="4.8">/10</tspan><tspan dy="-4.8" font-size="8.6">3</tspan></text>
<text transform="translate(13.9,218.6) rotate(-90)" font-size="11.4" letter-spacing="0.15">|T|<tspan dy="-4.8" font-size="8.6">2</tspan><tspan dy="4.8">/10</tspan><tspan dy="-4.8" font-size="8.6">6</tspan></text>
<text x="164.2" y="264.2" font-size="10.6">s<tspan dy="-4.6" font-size="8.2">1/2</tspan><tspan dy="4.6"> [MeV]</tspan></text>
</svg></body></html>
